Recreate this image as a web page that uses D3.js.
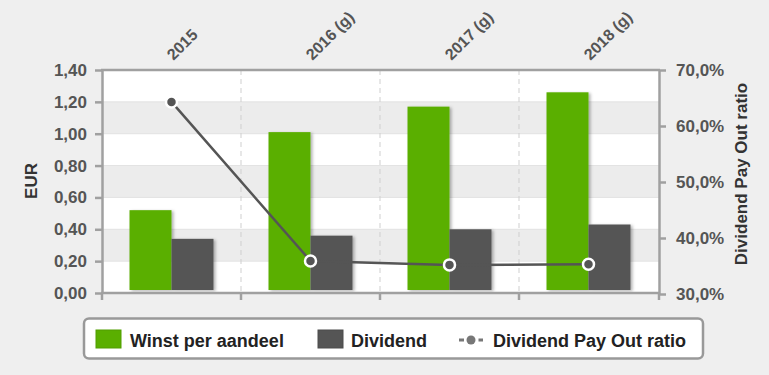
<!DOCTYPE html>
<html>
<head>
<meta charset="utf-8">
<script src="https://cdn.jsdelivr.net/npm/d3@7"></script>
<style>
  html, body { margin: 0; padding: 0; background: #efefef; }
  svg { display: block; font-family: "Liberation Sans", Arial, sans-serif; }
</style>
</head>
<body>
<svg id="svg" width="769" height="375"></svg>
<script>
// data
const categories = ['2015', '2016 (g)', '2017 (g)', '2018 (g)'];
const winst = [0.52, 1.01, 1.17, 1.26];
const dividend = [0.34, 0.36, 0.40, 0.43];
const payout = [64.3, 35.9, 35.2, 35.3];
const eurTicks = [0, 0.2, 0.4, 0.6, 0.8, 1.0, 1.2, 1.4];
const pctTicks = [30, 40, 50, 60, 70];
const seriesNames = ['Winst per aandeel', 'Dividend', 'Dividend Pay Out ratio'];

const green = '#5aaf00', dark = '#555555', axisCol = '#a0a0a0';
const plot = {left: 102, right: 659, top: 70, bottom: 293};

const svg = d3.select('#svg');
const defs = svg.append('defs');
const f = defs.append('filter').attr('id', 'shadow').attr('x', '-20%').attr('y', '-10%').attr('width', '150%').attr('height', '130%');
f.append('feDropShadow').attr('dx', 2).attr('dy', 1).attr('stdDeviation', 1.5).attr('flood-color', '#000').attr('flood-opacity', 0.3);

const x = d3.scaleBand().domain(categories).range([plot.left, plot.right - 1]);
const x1 = d3.scaleBand().domain([0, 1]).range([0, x.bandwidth()]).paddingOuter(0.655);
const y = d3.scaleLinear().domain([0, 1.4]).range([plot.bottom, plot.top]);
const y2 = d3.scaleLinear().domain([30, 70]).range([plot.bottom + 1, plot.top]);

const eurFmt = v => d3.format('.2f')(v).replace('.', ',');
const pctFmt = v => d3.format('.1f')(v).replace('.', ',') + '%';

// plot background + stripes
svg.append('rect').attr('x', plot.left).attr('y', plot.top)
  .attr('width', plot.right - plot.left).attr('height', plot.bottom - plot.top).attr('fill', '#fff');
svg.append('g').selectAll('rect').data(eurTicks.slice(0, -1))
  .join('rect')
    .attr('x', plot.left).attr('width', plot.right - plot.left)
    .attr('y', d => y(d + 0.2)).attr('height', d => y(d) - y(d + 0.2))
    .attr('fill', (d, i) => i % 2 === 1 ? '#ececec' : 'none');
svg.append('g').selectAll('line').data(eurTicks.slice(1, -1))
  .join('line')
    .attr('x1', plot.left).attr('x2', plot.right)
    .attr('y1', d => y(d)).attr('y2', d => y(d))
    .attr('stroke', '#e2e2e2').attr('stroke-width', 1);

// vertical dashed gridlines between categories
svg.append('g').selectAll('line').data(categories.slice(1))
  .join('line')
    .attr('x1', d => x(d)).attr('x2', d => x(d))
    .attr('y1', plot.top).attr('y2', plot.bottom)
    .attr('stroke', '#cfcfcf').attr('stroke-dasharray', '5,4');

// bars
const bars = svg.append('g').attr('filter', 'url(#shadow)');
[winst, dividend].forEach((vals, s) => {
  bars.append('g').selectAll('rect').data(vals)
    .join('rect')
      .attr('x', (d, i) => x(categories[i]) + x1(s))
      .attr('width', x1.bandwidth())
      .attr('y', d => y(d))
      .attr('height', d => y(0) - 3 - y(d))
      .attr('fill', s === 0 ? green : dark);
});

// left axis
const gl = svg.append('g').attr('transform', `translate(${plot.left},0)`)
  .call(d3.axisLeft(y).tickValues(eurTicks).tickFormat(eurFmt).tickSize(7).tickPadding(8).tickSizeOuter(0));
// right axis
const gr = svg.append('g').attr('transform', `translate(${plot.right},0)`)
  .call(d3.axisRight(y2).tickValues(pctTicks).tickFormat(pctFmt).tickSize(7).tickPadding(10).tickSizeOuter(0));
[gl, gr].forEach(g => {
  g.select('.domain').attr('stroke', axisCol).attr('stroke-width', 2.5);
  g.selectAll('.tick line').attr('stroke', axisCol).attr('stroke-width', 2.5);
  g.selectAll('.tick text').attr('fill', '#555').attr('font-size', 17).attr('font-weight', 'bold').attr('font-family', '"Liberation Sans", Arial, sans-serif');
});

// top border
svg.append('line').attr('x1', plot.left - 1).attr('x2', plot.right + 1)
  .attr('y1', plot.top).attr('y2', plot.top).attr('stroke', axisCol).attr('stroke-width', 2.5);
// bottom axis with boundary ticks
const bounds = categories.map(c => x(c)).concat([plot.right]);
svg.append('line').attr('x1', plot.left - 1).attr('x2', plot.right + 1)
  .attr('y1', plot.bottom).attr('y2', plot.bottom).attr('stroke', axisCol).attr('stroke-width', 2.5);
svg.append('g').selectAll('line').data(bounds)
  .join('line')
    .attr('x1', d => d).attr('x2', d => d)
    .attr('y1', plot.bottom).attr('y2', plot.bottom + 7)
    .attr('stroke', axisCol).attr('stroke-width', 2.5);

// top category labels, rotated
svg.append('g').selectAll('text').data(categories)
  .join('text')
    .attr('transform', d => `translate(${x(d) + x.bandwidth() / 2 + 2},61) rotate(-45)`)
    .attr('fill', '#555').attr('font-size', 16).attr('font-weight', 'bold')
    .text(d => d);

// axis titles
svg.append('text').attr('transform', 'translate(37,181) rotate(-90)')
  .attr('text-anchor', 'middle').attr('fill', '#333').attr('font-size', 17).attr('font-weight', 'bold')
  .text('EUR');
svg.append('text').attr('transform', 'translate(747,174) rotate(-90)')
  .attr('text-anchor', 'middle').attr('fill', '#333').attr('font-size', 17).attr('font-weight', 'bold')
  .text('Dividend Pay Out ratio');

// payout line
const cx = (d, i) => x(categories[i]) + x.bandwidth() / 2;
svg.append('path').datum(payout)
  .attr('d', d3.line().x(cx).y(d => y2(d)))
  .attr('fill', 'none').attr('stroke', dark).attr('stroke-width', 2.5);
svg.append('g').selectAll('circle').data(payout)
  .join('circle')
    .attr('cx', cx).attr('cy', d => y2(d)).attr('r', 5.5)
    .attr('fill', dark).attr('stroke', '#fff').attr('stroke-width', 2.5);

// legend
const lg = svg.append('g');
lg.append('rect').attr('x', 84).attr('y', 318.5).attr('width', 619).attr('height', 40).attr('rx', 5)
  .attr('fill', '#fff').attr('stroke', '#999').attr('stroke-width', 2.5);
const items = [
  {name: seriesNames[0], sx: 96, tx: 130, type: 'rect', color: green},
  {name: seriesNames[1], sx: 318, tx: 351, type: 'rect', color: dark},
  {name: seriesNames[2], sx: 459, tx: 493, type: 'line', color: '#777'}
];
items.forEach(it => {
  if (it.type === 'rect') {
    lg.append('rect').attr('x', it.sx).attr('y', 330).attr('width', 25).attr('height', 18)
      .attr('fill', it.color).attr('stroke', d3.color(it.color).darker(0.3)).attr('stroke-width', 1);
  } else {
    lg.append('line').attr('x1', it.sx).attr('x2', it.sx + 24).attr('y1', 340).attr('y2', 340)
      .attr('stroke', it.color).attr('stroke-width', 3).attr('stroke-dasharray', '5,14.5');
    lg.append('circle').attr('cx', it.sx + 12).attr('cy', 340).attr('r', 4.5).attr('fill', it.color);
  }
  lg.append('text').attr('x', it.tx).attr('y', 347)
    .attr('fill', '#222').attr('font-size', 18).attr('font-weight', 'bold')
    .text(it.name);
});
</script>
</body>
</html>
